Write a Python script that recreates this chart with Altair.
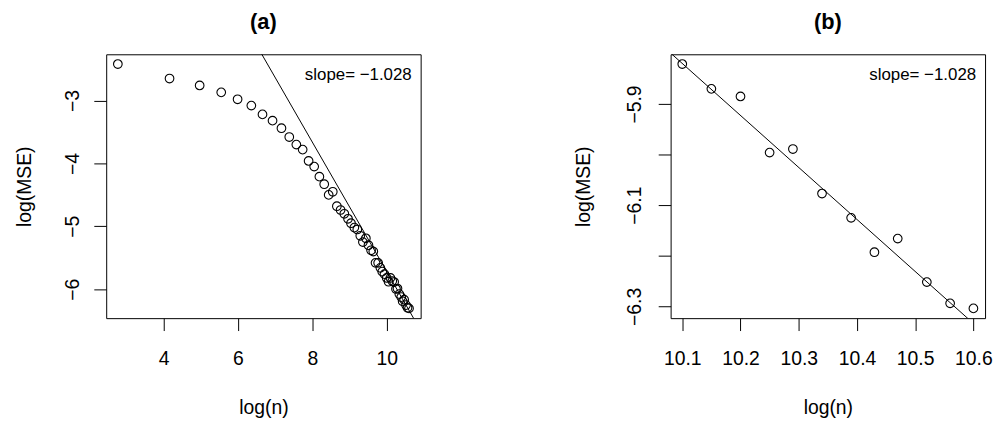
import altair as alt
import pandas as pd

FONT = "Liberation Sans"

# ---- data ----
# panel (a): all sample sizes
log_n_a = [2.77, 4.16, 4.97, 5.55, 5.99, 6.36, 6.66, 6.93, 7.17, 7.38,
           7.57, 7.74, 7.90, 8.05, 8.19, 8.32, 8.44, 8.55, 8.66, 8.76,
           8.86, 8.96, 9.04, 9.13, 9.21, 9.29, 9.36, 9.44, 9.51, 9.58,
           9.64, 9.70, 9.77, 9.83, 9.88, 9.94, 10.00, 10.05, 10.10, 10.15,
           10.20, 10.25, 10.29, 10.34, 10.39, 10.43, 10.47, 10.52, 10.56, 10.60]
log_mse_a = [-2.42, -2.65, -2.76, -2.87, -2.98, -3.08, -3.22, -3.32, -3.44, -3.58,
             -3.70, -3.78, -3.96, -4.05, -4.21, -4.33, -4.50, -4.45, -4.68, -4.74,
             -4.80, -4.88, -4.95, -5.02, -5.05, -5.15, -5.25, -5.19, -5.30, -5.38,
             -5.40, -5.58, -5.58, -5.66, -5.72, -5.76, -5.82, -5.88, -5.82, -5.87,
             -5.885, -5.996, -5.989, -6.077, -6.125, -6.193, -6.166, -6.252, -6.294, -6.304]

# panel (b): the largest sample sizes
log_n_b = [10.10, 10.15, 10.20, 10.25, 10.29, 10.34, 10.39, 10.43, 10.47, 10.52, 10.56, 10.60]
log_mse_b = [-5.821, -5.870, -5.885, -5.996, -5.989, -6.077, -6.125, -6.193, -6.166, -6.252, -6.294, -6.304]

slope = -1.028
intercept = 4.563
slope_label = "slope= \u22121.028"

xticks_a = [4, 6, 8, 10]
yticks_a = [-6, -5, -4, -3]
xticks_b = [10.1, 10.2, 10.3, 10.4, 10.5, 10.6]
yticks_b = [-6.3, -6.2, -6.1, -6.0, -5.9]

W, H = 317, 266
FS = 19.5


def padded(vals):
    lo, hi = min(vals), max(vals)
    d = (hi - lo) * 0.04
    return [lo - d, hi + d]


def panel(xs, ys, xticks, yticks, xfmt, ylabel_expr, title, ytitle_x, ylab_pad):
    df = pd.DataFrame({"x": xs, "y": ys})
    xdom = padded(xs)
    ydom = padded(ys)
    xsc = alt.Scale(domain=xdom, nice=False, zero=False)
    ysc = alt.Scale(domain=ydom, nice=False, zero=False)

    xaxis = alt.Axis(values=xticks, format=xfmt, title="log(n)", grid=False, domain=False,
                     tickColor="black", tickSize=12.5, tickWidth=1,
                     labelFont=FONT, labelFontSize=FS, labelColor="black",
                     labelBaseline="alphabetic", labelPadding=34, labelFlush=False,
                     titleFont=FONT, titleFontSize=FS, titleFontWeight="normal", titleColor="black",
                     titleX=W / 2, titleY=96, titleBaseline="alphabetic", titleAlign="center")
    yaxis = alt.Axis(values=yticks, labelExpr=ylabel_expr, title="log(MSE)", grid=False, domain=False,
                     tickColor="black", tickSize=12.5, tickWidth=1,
                     labelFont=FONT, labelFontSize=FS, labelColor="black",
                     labelAngle=270, labelAlign="center", labelBaseline="alphabetic",
                     labelPadding=ylab_pad, labelFlush=False, labelOverlap=False,
                     titleFont=FONT, titleFontSize=FS, titleFontWeight="normal", titleColor="black",
                     titleAngle=270, titleX=ytitle_x, titleY=H / 2,
                     titleBaseline="alphabetic", titleAlign="center")

    pts = alt.Chart(df).mark_point(shape="circle", filled=False, size=76, color="black",
                                   strokeWidth=1.1, opacity=1).encode(
        x=alt.X("x:Q", scale=xsc, axis=xaxis),
        y=alt.Y("y:Q", scale=ysc, axis=yaxis),
    )

    line_df = pd.DataFrame({"x": xdom})
    line = alt.Chart(line_df).transform_calculate(
        y=f"{intercept} + ({slope}) * datum.x"
    ).mark_line(color="black", strokeWidth=1, clip=True).encode(
        x=alt.X("x:Q", scale=xsc),
        y=alt.Y("y:Q", scale=ysc),
    )

    txt = alt.Chart(pd.DataFrame({"t": [slope_label]})).mark_text(
        align="right", baseline="alphabetic", font=FONT, fontSize=17, color="black"
    ).encode(x=alt.value(W - 9), y=alt.value(26.4), text="t:N")

    return alt.layer(pts, line, txt).properties(
        width=W, height=H,
        title=alt.TitleParams(title, font=FONT, fontSize=22, fontWeight="bold", color="black",
                              anchor="middle", frame="group", baseline="alphabetic", offset=4),
    )


label_a = "format(datum.value, 'd')"
label_b = ("(abs(datum.value + 6.0) < 0.001 || abs(datum.value + 6.2) < 0.001) ? '' : "
           "format(datum.value, '.1f')")

pa = panel(log_n_a, log_mse_a, xticks_a, yticks_a, "d", label_a, "(a)", -76.4, 15.5)
pb = panel(log_n_b, log_mse_b, xticks_b, yticks_b, ".1f", label_b, "(b)", -81.5, 18.1)

chart = alt.hconcat(pa, pb, spacing=153).properties(
    padding={"left": 6, "top": 0, "right": 0, "bottom": 0},
    background="white",
).configure_view(stroke="black", strokeWidth=1)

chart.save("out.html", embed_options={"renderer": "svg", "actions": False})
